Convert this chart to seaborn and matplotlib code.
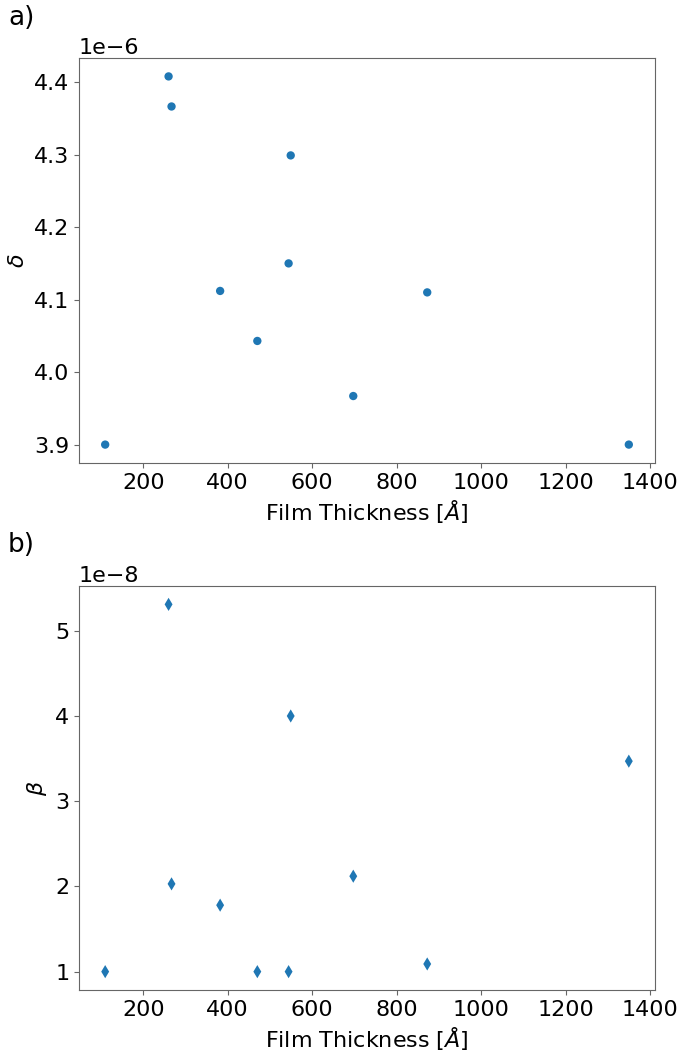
import matplotlib
matplotlib.use("Agg")
import matplotlib.pyplot as plt
import seaborn as sns
import pandas as pd

thickness = [110, 260, 267, 382, 470, 544, 549, 697, 872, 1349]
delta = [3.900e-6, 4.408e-6, 4.3665e-6, 4.112e-6, 4.043e-6, 4.150e-6, 4.299e-6, 3.967e-6, 4.110e-6, 3.900e-6]
beta = [1.00e-8, 5.31e-8, 2.03e-8, 1.78e-8, 1.00e-8, 1.00e-8, 4.00e-8, 2.12e-8, 1.09e-8, 3.47e-8]

df = pd.DataFrame({"thickness": thickness, "delta": delta, "beta": beta})

plt.rcParams["font.size"] = 16
fig = plt.figure(figsize=(6.8, 10.53), dpi=100)
ax1 = fig.add_axes([79/680, 1 - 463/1053, (655-79)/680, (463-58)/1053])
ax2 = fig.add_axes([79/680, 1 - 990/1053, (655-79)/680, (990-586)/1053])

sns.scatterplot(data=df, x="thickness", y="delta", ax=ax1, marker="o", s=36,
                color="#1f77b4", edgecolor="none")
sns.scatterplot(data=df, x="thickness", y="beta", ax=ax2, marker="d", s=45,
                color="#1f77b4", edgecolor="none")

for ax, lab in [(ax1, r"$\delta$"), (ax2, r"$\beta$")]:
    ax.set_xlabel(r"Film Thickness [$\AA$]", fontsize=16)
    ax.set_ylabel(lab, fontsize=16)
    ax.tick_params(labelsize=16, color="0.4")
    ax.yaxis.get_offset_text().set_fontsize(16)
    for sp in ax.spines.values():
        sp.set_color("0.4")

fig.text(8/680, 1 - 18/1053, "a)", fontsize=19, va="center", ha="left")
fig.text(8/680, 1 - 545/1053, "b)", fontsize=19, va="center", ha="left")

fig.savefig("out.png", dpi=100)
